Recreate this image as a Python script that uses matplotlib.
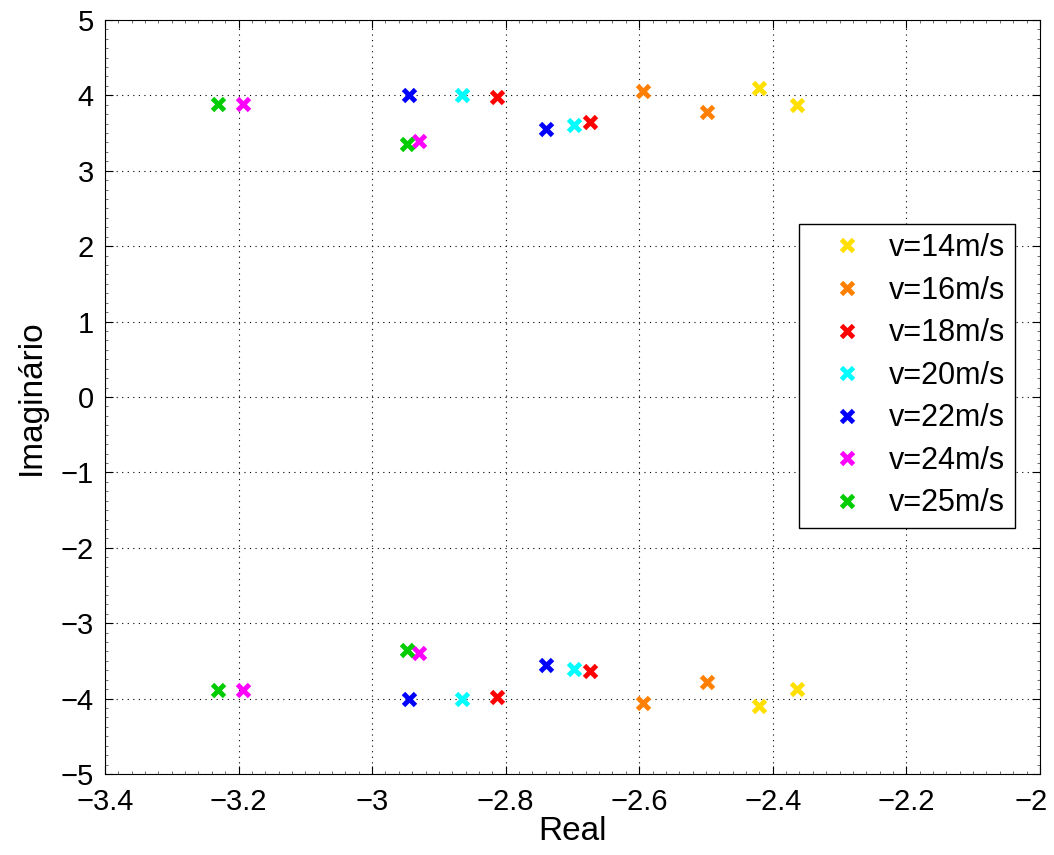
import numpy as np
import matplotlib.pyplot as plt
import matplotlib.transforms as mtransforms
from matplotlib.ticker import AutoMinorLocator

plt.rcParams['font.family'] = ['Liberation Sans', 'DejaVu Sans']

# pole locations (each pair is mirrored below the real axis)
labels = ['v=14m/s', 'v=16m/s', 'v=18m/s', 'v=20m/s', 'v=22m/s', 'v=24m/s', 'v=25m/s']
colors = ['#FFE000', '#FF8000', '#FF0000', '#00FFFF', '#0000FF', '#FF00FF', '#00CC00']
real_parts = [[-2.421, -2.363],
              [-2.594, -2.499],
              [-2.813, -2.674],
              [-2.865, -2.698],
              [-2.945, -2.739],
              [-3.194, -2.930],
              [-3.231, -2.948]]
imag_parts = [[4.10, 3.87],
              [4.06, 3.78],
              [3.98, 3.64],
              [4.01, 3.61],
              [4.01, 3.56],
              [3.89, 3.39],
              [3.89, 3.36]]

fig = plt.figure(figsize=(10.54, 8.55), dpi=100)
ax = fig.add_axes([0.0996, 0.0947, 0.887, 0.882])

for lab, col, re, im in zip(labels, colors, real_parts, imag_parts):
    re = np.array(re)
    im = np.array(im)
    xs = np.concatenate([re, re])
    ys = np.concatenate([im, -im])
    ax.plot(xs, ys, linestyle='none', marker='x', color=col,
            markersize=8, markeredgewidth=3.5, label=lab)

ax.set_xlim(-3.4, -2)
ax.set_ylim(-5, 5)
ax.set_xticks(np.arange(-3.4, -1.99, 0.2))
ax.set_xticklabels(['\u22123.4', '\u22123.2', '\u22123', '\u22122.8', '\u22122.6',
                    '\u22122.4', '\u22122.2', '\u22122'])
ax.set_yticks(np.arange(-5, 6, 1))
ax.set_yticklabels(['\u2212%d' % -v if v < 0 else '%d' % v for v in range(-5, 6)])
ax.xaxis.set_minor_locator(AutoMinorLocator(10))
ax.yaxis.set_minor_locator(AutoMinorLocator(8))
ax.tick_params(direction='in', top=True, right=True, labelsize=21, length=6)
ax.tick_params(which='minor', direction='in', top=True, right=True,
               length=2.5, width=0.6, color='#555555')
ax.tick_params(axis='x', pad=10)
ax.tick_params(axis='y', pad=8)
ax.grid(True, which='major', linestyle=(0, (1, 4)), color='black', linewidth=0.8)
ax.set_xlabel('Real', fontsize=24, labelpad=0)
ax.set_ylabel('Imaginário', fontsize=24, labelpad=10)

# keep the last x tick label inside the figure, like the original
last = ax.get_xticklabels()[-1]
last.set_horizontalalignment('right')
last.set_transform(last.get_transform() +
                   mtransforms.ScaledTranslation(0.08, 0, fig.dpi_scale_trans))

leg = ax.legend(loc='upper left', bbox_to_anchor=(799 / 1054, 1 - 224 / 855),
                bbox_transform=fig.transFigure, borderaxespad=0, fontsize=22,
                frameon=True, fancybox=False, edgecolor='black', framealpha=1,
                handletextpad=0.1, labelspacing=0.41, borderpad=0.3,
                handlelength=2.55)
leg.get_frame().set_linewidth(1.0)

fig.savefig('out.png', dpi=100)
